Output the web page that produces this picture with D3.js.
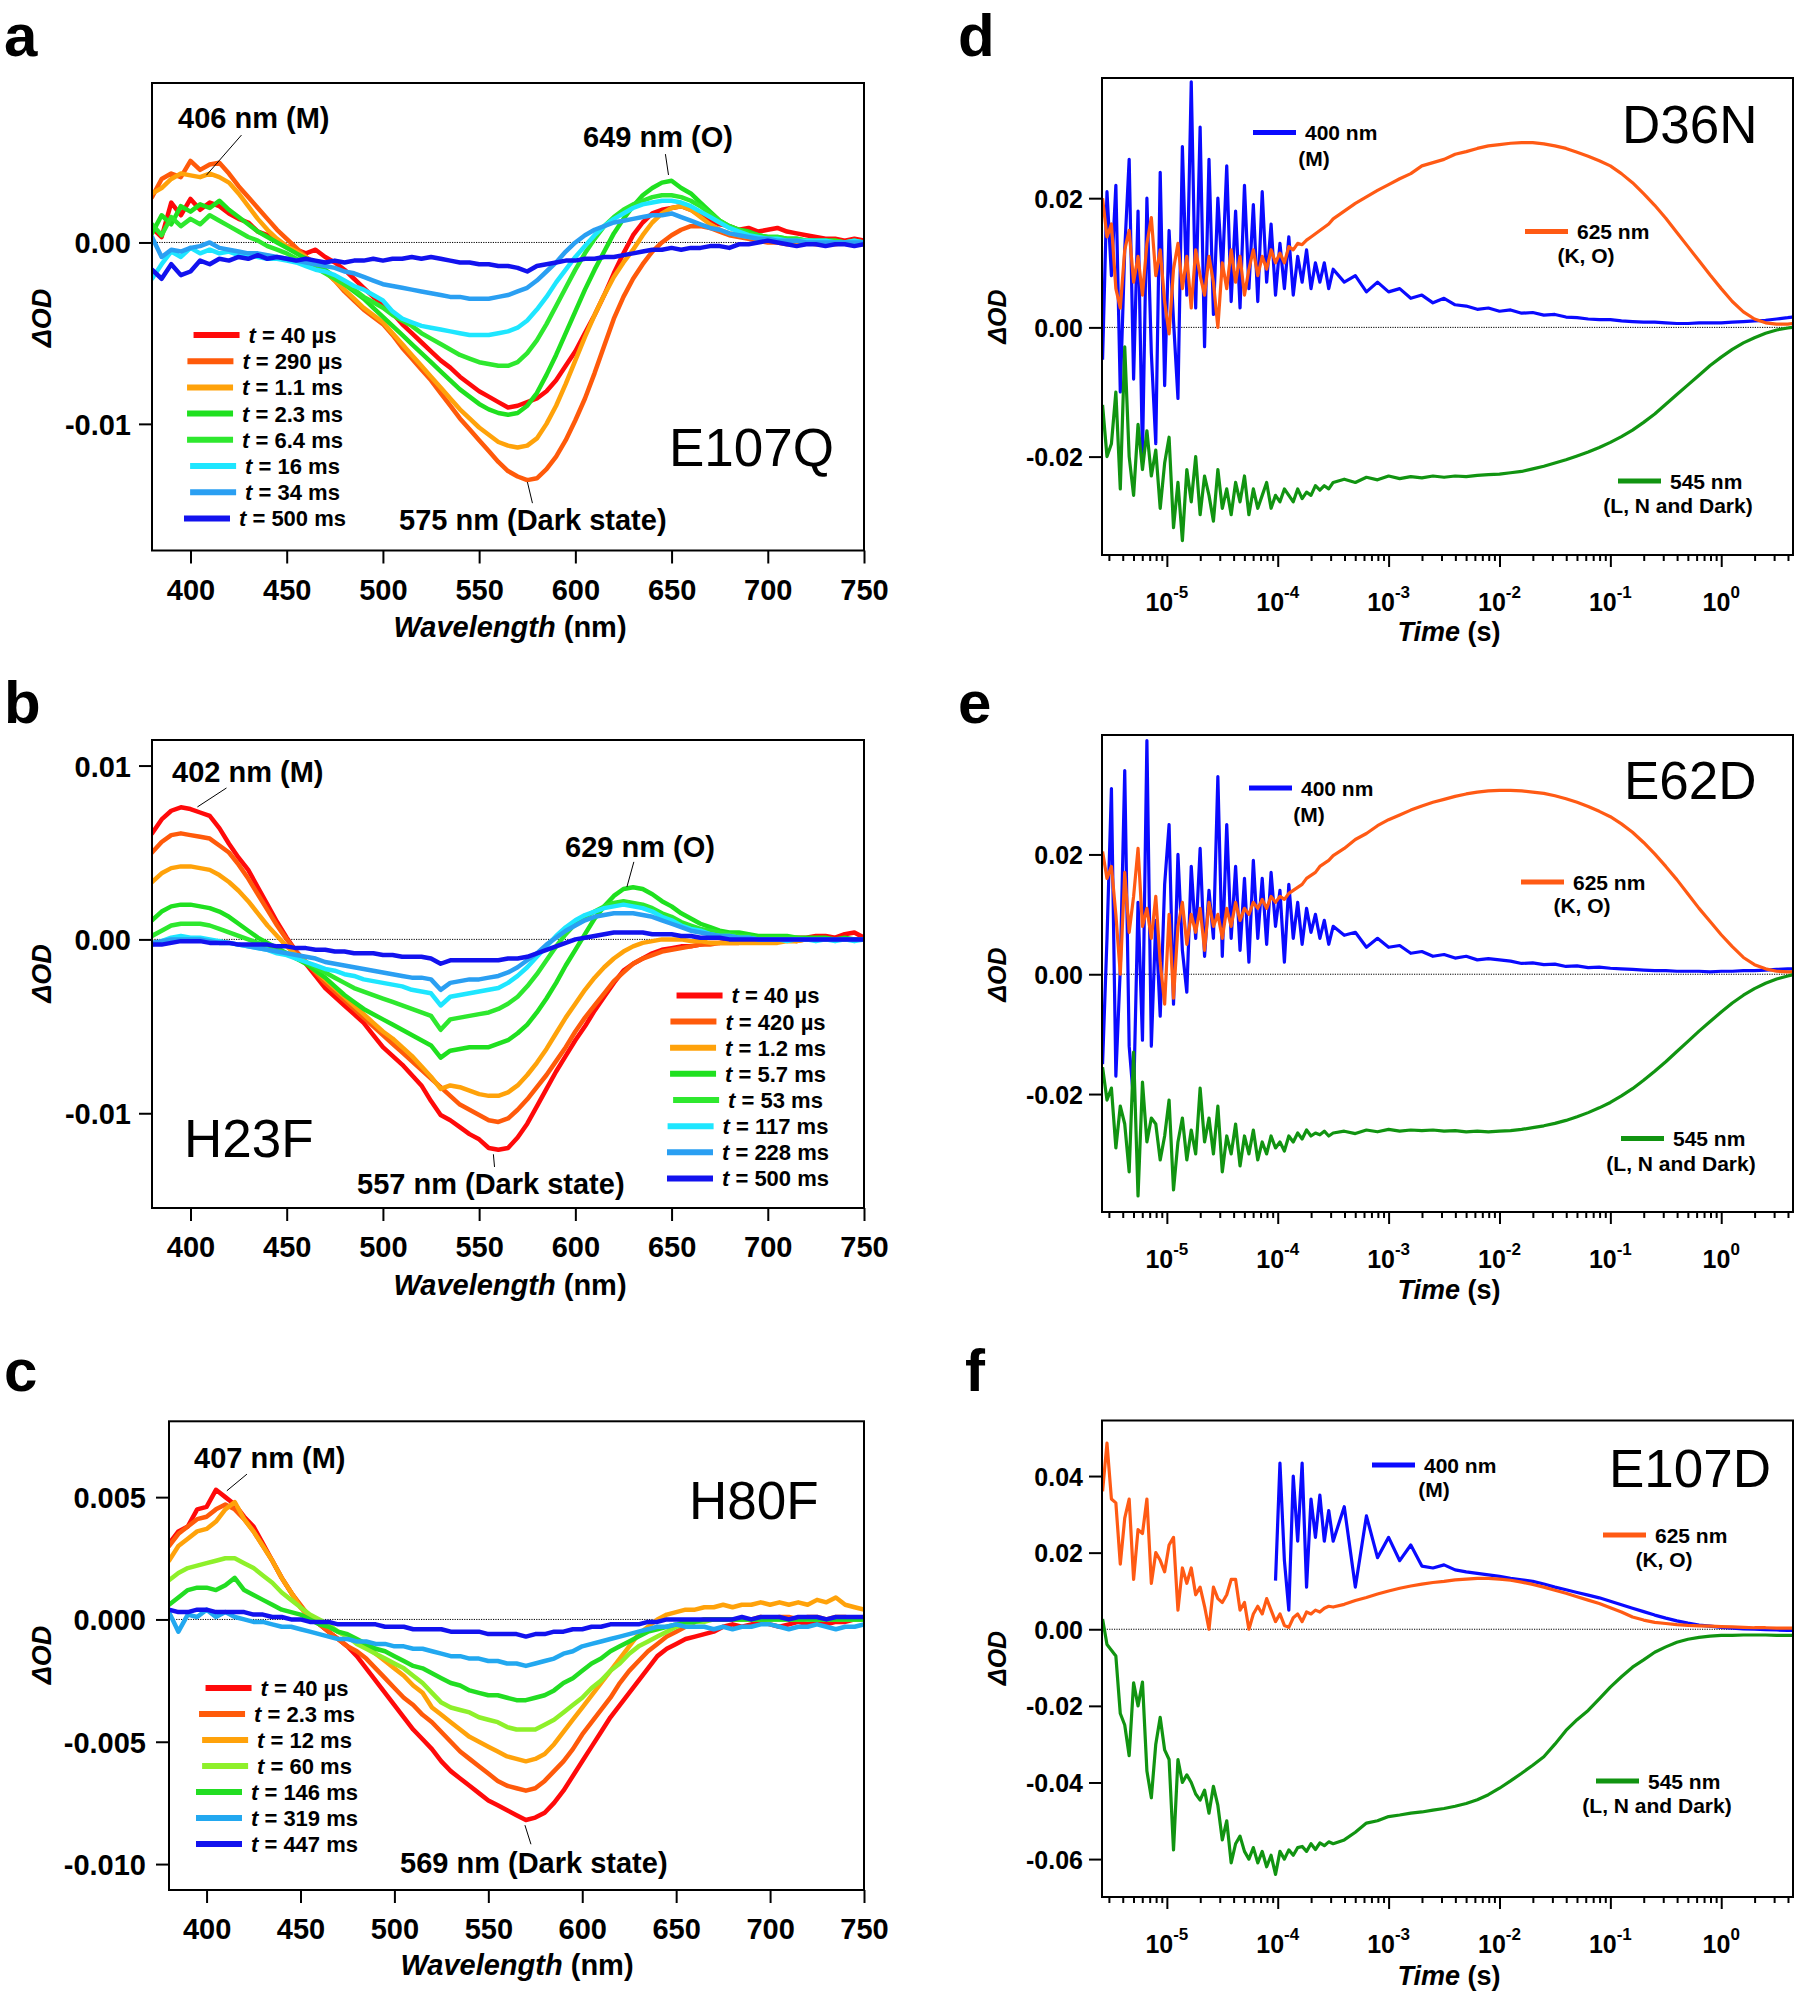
<!DOCTYPE html>
<html><head><meta charset="utf-8">
<script src="https://cdn.jsdelivr.net/npm/d3@7"></script>
<style>body{margin:0;background:#fff}svg{display:block}</style>
</head><body>
<svg id="chart" width="1800" height="1996"></svg>
<script>
// ================= DATA =================
const wavelengths = [380,385,390,395,400,405,410,415,420,425,430,435,440,445,450,
455,460,465,470,475,480,485,490,495,500,505,510,515,520,525,
530,535,540,545,550,555,560,565,570,575,580,585,590,595,600,
605,610,615,620,625,630,635,640,645,650,655,660,665,670,675,
680,685,690,695,700,705,710,715,720,725,730,735,740,745,750];
const wlTicks = [400,450,500,550,600,650,700,750];

// ---- panel a (E107Q) ----
const aLabels = ["40 µs","290 µs","1.1 ms","2.3 ms","6.4 ms","16 ms","34 ms","500 ms"];
const a40us = [0.0008,0.0003,0.0022,0.0015,0.0024,0.0018,0.0022,0.0020,0.0016,0.0013,0.0011,0.0006,0.0004,0.0001,-0.0002,
-0.0004,-0.0006,-0.0004,-0.0008,-0.0011,-0.0015,-0.0020,-0.0025,-0.0030,-0.0034,-0.0039,-0.0045,-0.0050,-0.0055,-0.0060,
-0.0065,-0.0069,-0.0074,-0.0078,-0.0082,-0.0085,-0.0088,-0.0091,-0.0090,-0.0088,-0.0086,-0.0082,-0.0076,-0.0068,-0.0060,
-0.0050,-0.0040,-0.0029,-0.0017,-0.0006,0.0004,0.0011,0.0016,0.0018,0.0019,0.0020,0.0018,0.0015,0.0012,0.0010,
0.0009,0.0007,0.0008,0.0006,0.0007,0.0008,0.0006,0.0005,0.0004,0.0003,0.0002,0.0002,0.0001,0.0002,0.0001];
const a290us = [0.0025,0.0035,0.0038,0.0036,0.0045,0.0040,0.0043,0.0044,0.0038,0.0031,0.0025,0.0019,0.0013,0.0007,0.0002,
-0.0003,-0.0008,-0.0012,-0.0016,-0.0021,-0.0027,-0.0032,-0.0037,-0.0041,-0.0045,-0.0051,-0.0058,-0.0064,-0.0070,-0.0076,
-0.0083,-0.0090,-0.0097,-0.0103,-0.0109,-0.0115,-0.0121,-0.0126,-0.0129,-0.0131,-0.0130,-0.0125,-0.0118,-0.0109,-0.0098,
-0.0086,-0.0072,-0.0057,-0.0042,-0.0030,-0.0020,-0.0012,-0.0005,0.0000,0.0004,0.0007,0.0009,0.0009,0.0008,0.0006,
0.0004,0.0003,0.0002,0.0001,0.0000,0.0000,-0.0001,0.0000,0.0000,-0.0001,0.0000,-0.0001,0.0000,-0.0001,-0.0001];
const a1_1ms = [0.0027,0.0030,0.0035,0.0038,0.0037,0.0036,0.0038,0.0036,0.0033,0.0027,0.0020,0.0013,0.0007,0.0002,-0.0002,
-0.0005,-0.0008,-0.0012,-0.0016,-0.0021,-0.0026,-0.0031,-0.0036,-0.0040,-0.0044,-0.0050,-0.0056,-0.0062,-0.0068,-0.0074,
-0.0080,-0.0086,-0.0092,-0.0097,-0.0102,-0.0106,-0.0110,-0.0112,-0.0113,-0.0112,-0.0108,-0.0100,-0.0090,-0.0078,-0.0065,
-0.0052,-0.0040,-0.0029,-0.0019,-0.0011,-0.0004,0.0004,0.0011,0.0016,0.0019,0.0020,0.0018,0.0014,0.0010,0.0007,
0.0005,0.0004,0.0003,0.0002,0.0001,0.0001,0.0000,0.0000,0.0000,0.0000,0.0000,0.0000,0.0000,0.0000,0.0000];
const a2_3ms = [0.0005,0.0015,0.0010,0.0020,0.0017,0.0021,0.0019,0.0023,0.0018,0.0014,0.0010,0.0006,0.0003,0.0000,-0.0003,
-0.0006,-0.0009,-0.0012,-0.0015,-0.0019,-0.0023,-0.0027,-0.0031,-0.0036,-0.0041,-0.0046,-0.0051,-0.0056,-0.0061,-0.0066,
-0.0071,-0.0076,-0.0081,-0.0085,-0.0089,-0.0092,-0.0094,-0.0095,-0.0094,-0.0090,-0.0083,-0.0073,-0.0062,-0.0050,-0.0038,
-0.0026,-0.0015,-0.0005,0.0005,0.0013,0.0020,0.0026,0.0030,0.0033,0.0034,0.0030,0.0027,0.0022,0.0017,0.0012,
0.0009,0.0007,0.0006,0.0004,0.0003,0.0003,0.0002,0.0002,0.0001,0.0001,0.0001,0.0001,0.0000,0.0000,0.0000];
const a6_4ms = [0.0010,0.0004,0.0014,0.0009,0.0013,0.0010,0.0015,0.0012,0.0009,0.0006,0.0003,0.0001,-0.0002,-0.0004,-0.0006,
-0.0009,-0.0011,-0.0014,-0.0017,-0.0020,-0.0023,-0.0026,-0.0030,-0.0033,-0.0036,-0.0040,-0.0043,-0.0046,-0.0050,-0.0053,
-0.0056,-0.0059,-0.0062,-0.0064,-0.0066,-0.0067,-0.0068,-0.0068,-0.0066,-0.0061,-0.0054,-0.0045,-0.0035,-0.0025,-0.0015,
-0.0006,0.0002,0.0009,0.0014,0.0018,0.0021,0.0023,0.0025,0.0026,0.0026,0.0025,0.0023,0.0020,0.0016,0.0012,
0.0009,0.0007,0.0005,0.0004,0.0003,0.0003,0.0002,0.0002,0.0001,0.0001,0.0001,0.0001,0.0000,0.0001,0.0000];
const a16ms = [-0.0020,-0.0012,-0.0005,-0.0008,-0.0003,-0.0006,-0.0004,-0.0006,-0.0005,-0.0007,-0.0007,-0.0008,-0.0009,-0.0009,-0.0010,
-0.0011,-0.0013,-0.0015,-0.0016,-0.0018,-0.0021,-0.0024,-0.0026,-0.0029,-0.0032,-0.0038,-0.0042,-0.0044,-0.0046,-0.0047,
-0.0048,-0.0049,-0.0050,-0.0051,-0.0051,-0.0051,-0.0050,-0.0049,-0.0047,-0.0043,-0.0037,-0.0030,-0.0022,-0.0015,-0.0008,
-0.0002,0.0004,0.0009,0.0013,0.0016,0.0019,0.0021,0.0022,0.0023,0.0023,0.0022,0.0020,0.0017,0.0014,0.0011,
0.0008,0.0006,0.0004,0.0003,0.0002,0.0002,0.0001,0.0001,0.0001,0.0001,0.0001,0.0000,0.0000,0.0001,0.0000];
const a34ms = [0.0003,-0.0008,-0.0004,-0.0005,-0.0003,-0.0002,0.0000,-0.0003,-0.0004,-0.0005,-0.0006,-0.0006,-0.0007,-0.0008,-0.0009,
-0.0010,-0.0011,-0.0012,-0.0013,-0.0014,-0.0016,-0.0017,-0.0019,-0.0021,-0.0023,-0.0024,-0.0025,-0.0026,-0.0027,-0.0028,
-0.0029,-0.0030,-0.0030,-0.0031,-0.0031,-0.0031,-0.0030,-0.0029,-0.0027,-0.0025,-0.0021,-0.0016,-0.0011,-0.0005,0.0000,
0.0004,0.0007,0.0009,0.0011,0.0012,0.0013,0.0014,0.0015,0.0015,0.0016,0.0014,0.0012,0.0010,0.0008,0.0007,
0.0005,0.0004,0.0003,0.0002,0.0002,0.0001,0.0001,0.0001,0.0000,0.0000,0.0000,0.0000,0.0000,0.0000,0.0000];
const a500ms = [-0.0015,-0.0020,-0.0012,-0.0018,-0.0016,-0.0010,-0.0012,-0.0009,-0.0010,-0.0008,-0.0009,-0.0007,-0.0009,-0.0008,-0.0009,
-0.0010,-0.0009,-0.0010,-0.0011,-0.0010,-0.0011,-0.0010,-0.0010,-0.0009,-0.0010,-0.0009,-0.0009,-0.0008,-0.0009,-0.0008,
-0.0009,-0.0010,-0.0011,-0.0011,-0.0012,-0.0012,-0.0013,-0.0013,-0.0014,-0.0016,-0.0013,-0.0012,-0.0011,-0.0010,-0.0010,
-0.0009,-0.0009,-0.0008,-0.0008,-0.0007,-0.0006,-0.0005,-0.0004,-0.0004,-0.0003,-0.0004,-0.0003,-0.0003,-0.0002,-0.0002,
-0.0003,-0.0001,-0.0001,0.0000,0.0001,0.0000,-0.0001,-0.0002,-0.0001,-0.0001,-0.0002,-0.0001,-0.0001,-0.0002,-0.0001];

// ---- panel b (H23F) ----
const bLabels = ["40 µs","420 µs","1.2 ms","5.7 ms","53 ms","117 ms","228 ms","500 ms"];
const b40us = [0.0061,0.0069,0.0074,0.0076,0.0075,0.0073,0.0071,0.0064,0.0055,0.0047,0.0040,0.0030,0.0020,0.0010,0.0001,
-0.0007,-0.0014,-0.0021,-0.0028,-0.0033,-0.0038,-0.0043,-0.0048,-0.0055,-0.0062,-0.0067,-0.0072,-0.0078,-0.0084,-0.0093,
-0.0101,-0.0104,-0.0108,-0.0112,-0.0115,-0.0120,-0.0121,-0.0120,-0.0114,-0.0106,-0.0096,-0.0086,-0.0076,-0.0067,-0.0058,
-0.0050,-0.0041,-0.0033,-0.0025,-0.0018,-0.0014,-0.0011,-0.0008,-0.0006,-0.0005,-0.0004,-0.0004,-0.0003,-0.0002,-0.0002,
-0.0001,-0.0001,0.0000,0.0000,0.0000,0.0001,0.0000,0.0001,0.0001,0.0002,0.0002,0.0001,0.0003,0.0004,0.0001];
const b420us = [0.0050,0.0056,0.0060,0.0061,0.0060,0.0059,0.0058,0.0054,0.0050,0.0043,0.0035,0.0026,0.0017,0.0008,0.0000,
-0.0007,-0.0013,-0.0019,-0.0025,-0.0030,-0.0035,-0.0040,-0.0045,-0.0050,-0.0055,-0.0060,-0.0065,-0.0070,-0.0075,-0.0080,
-0.0085,-0.0090,-0.0095,-0.0098,-0.0101,-0.0104,-0.0105,-0.0103,-0.0098,-0.0092,-0.0085,-0.0078,-0.0070,-0.0062,-0.0053,
-0.0045,-0.0038,-0.0031,-0.0024,-0.0019,-0.0014,-0.0011,-0.0009,-0.0007,-0.0006,-0.0005,-0.0004,-0.0003,-0.0003,-0.0002,
-0.0002,-0.0002,-0.0001,-0.0001,-0.0001,0.0000,0.0000,-0.0001,0.0000,0.0000,0.0000,0.0000,0.0000,0.0000,0.0000];
const b1_2ms = [0.0033,0.0038,0.0041,0.0042,0.0042,0.0041,0.0040,0.0037,0.0033,0.0028,0.0022,0.0015,0.0008,0.0002,-0.0004,
-0.0009,-0.0013,-0.0018,-0.0023,-0.0028,-0.0033,-0.0038,-0.0043,-0.0048,-0.0053,-0.0057,-0.0062,-0.0067,-0.0073,-0.0079,
-0.0086,-0.0084,-0.0085,-0.0087,-0.0089,-0.0090,-0.0090,-0.0088,-0.0084,-0.0078,-0.0071,-0.0063,-0.0054,-0.0045,-0.0037,
-0.0029,-0.0022,-0.0016,-0.0011,-0.0007,-0.0004,-0.0002,-0.0001,0.0000,0.0000,0.0000,-0.0001,-0.0001,-0.0002,-0.0002,
-0.0002,-0.0002,-0.0002,-0.0002,-0.0002,-0.0002,-0.0001,-0.0001,0.0000,0.0000,0.0000,0.0000,0.0000,0.0000,0.0000];
const b5_7ms = [0.0011,0.0016,0.0019,0.0020,0.0020,0.0019,0.0018,0.0016,0.0013,0.0009,0.0005,0.0001,-0.0002,-0.0005,-0.0008,
-0.0011,-0.0014,-0.0018,-0.0022,-0.0027,-0.0032,-0.0036,-0.0040,-0.0043,-0.0046,-0.0049,-0.0052,-0.0055,-0.0058,-0.0061,
-0.0068,-0.0064,-0.0063,-0.0062,-0.0062,-0.0062,-0.0060,-0.0058,-0.0054,-0.0049,-0.0042,-0.0034,-0.0025,-0.0015,-0.0006,
0.0003,0.0012,0.0019,0.0025,0.0029,0.0030,0.0029,0.0026,0.0022,0.0019,0.0015,0.0012,0.0009,0.0007,0.0005,
0.0004,0.0004,0.0003,0.0002,0.0002,0.0002,0.0002,0.0001,0.0001,0.0001,0.0001,0.0000,0.0001,0.0000,0.0000];
const b53ms = [0.0002,0.0005,0.0008,0.0009,0.0009,0.0009,0.0008,0.0006,0.0004,0.0002,0.0000,-0.0002,-0.0004,-0.0006,-0.0008,
-0.0011,-0.0013,-0.0016,-0.0019,-0.0022,-0.0025,-0.0028,-0.0030,-0.0032,-0.0034,-0.0036,-0.0038,-0.0040,-0.0042,-0.0044,
-0.0052,-0.0046,-0.0045,-0.0044,-0.0043,-0.0042,-0.0040,-0.0037,-0.0033,-0.0027,-0.0020,-0.0012,-0.0004,0.0003,0.0009,
0.0013,0.0016,0.0019,0.0021,0.0022,0.0021,0.0020,0.0018,0.0015,0.0013,0.0010,0.0008,0.0006,0.0005,0.0004,
0.0003,0.0002,0.0002,0.0001,0.0001,0.0001,0.0001,0.0001,0.0000,0.0000,0.0000,0.0000,0.0000,0.0000,0.0000];
const b117ms = [-0.0003,-0.0001,0.0001,0.0002,0.0001,0.0001,0.0000,-0.0001,-0.0002,-0.0003,-0.0004,-0.0005,-0.0006,-0.0008,-0.0009,
-0.0011,-0.0013,-0.0015,-0.0017,-0.0018,-0.0020,-0.0021,-0.0023,-0.0024,-0.0025,-0.0026,-0.0027,-0.0029,-0.0030,-0.0031,
-0.0038,-0.0033,-0.0032,-0.0031,-0.0030,-0.0029,-0.0028,-0.0025,-0.0021,-0.0016,-0.0010,-0.0004,0.0002,0.0007,0.0011,
0.0014,0.0016,0.0018,0.0019,0.0020,0.0019,0.0018,0.0016,0.0013,0.0011,0.0008,0.0006,0.0005,0.0003,0.0002,
0.0002,0.0001,0.0001,0.0000,0.0000,0.0000,-0.0001,0.0000,0.0000,-0.0001,0.0000,-0.0001,0.0000,-0.0001,0.0000];
const b228ms = [-0.0002,-0.0001,0.0000,0.0000,0.0000,0.0000,-0.0001,-0.0002,-0.0002,-0.0003,-0.0004,-0.0005,-0.0006,-0.0007,-0.0008,
-0.0009,-0.0010,-0.0011,-0.0013,-0.0014,-0.0015,-0.0016,-0.0017,-0.0018,-0.0019,-0.0020,-0.0021,-0.0022,-0.0022,-0.0023,
-0.0029,-0.0025,-0.0024,-0.0023,-0.0023,-0.0022,-0.0021,-0.0019,-0.0016,-0.0012,-0.0008,-0.0003,0.0001,0.0005,0.0008,
0.0011,0.0013,0.0014,0.0015,0.0015,0.0015,0.0014,0.0013,0.0011,0.0009,0.0007,0.0005,0.0004,0.0003,0.0002,
0.0002,0.0001,0.0001,0.0000,0.0000,0.0000,0.0000,0.0000,0.0000,0.0000,0.0000,0.0000,0.0000,0.0000,0.0000];
const b500ms = [-0.0003,-0.0003,-0.0002,-0.0001,-0.0001,-0.0001,-0.0002,-0.0002,-0.0002,-0.0003,-0.0003,-0.0003,-0.0003,-0.0004,-0.0004,
-0.0005,-0.0005,-0.0006,-0.0006,-0.0007,-0.0007,-0.0008,-0.0008,-0.0008,-0.0009,-0.0009,-0.0010,-0.0010,-0.0010,-0.0011,
-0.0014,-0.0012,-0.0012,-0.0012,-0.0012,-0.0012,-0.0012,-0.0011,-0.0011,-0.0010,-0.0008,-0.0006,-0.0004,-0.0002,0.0000,
0.0001,0.0002,0.0003,0.0004,0.0004,0.0004,0.0004,0.0003,0.0003,0.0003,0.0002,0.0002,0.0001,0.0001,0.0001,
0.0000,0.0000,0.0000,0.0000,0.0000,0.0000,0.0000,0.0000,0.0000,0.0000,0.0000,0.0000,0.0000,0.0000,0.0000];

// ---- panel c (H80F) ----
const cLabels = ["40 µs","2.3 ms","12 ms","60 ms","146 ms","319 ms","447 ms"];
const c40us = [0.0031,0.0036,0.0038,0.0045,0.0046,0.0053,0.0050,0.0047,0.0042,0.0038,0.0031,0.0024,0.0017,0.0011,0.0005,
0.0001,-0.0002,-0.0005,-0.0008,-0.0011,-0.0015,-0.0020,-0.0025,-0.0030,-0.0035,-0.0040,-0.0045,-0.0049,-0.0053,-0.0058,
-0.0062,-0.0065,-0.0068,-0.0071,-0.0074,-0.0076,-0.0078,-0.0080,-0.0082,-0.0081,-0.0079,-0.0075,-0.0070,-0.0064,-0.0058,
-0.0052,-0.0046,-0.0040,-0.0035,-0.0030,-0.0025,-0.0020,-0.0015,-0.0012,-0.0010,-0.0008,-0.0007,-0.0006,-0.0005,-0.0003,
-0.0002,-0.0003,-0.0002,-0.0001,-0.0002,-0.0003,-0.0002,-0.0001,-0.0002,-0.0001,-0.0002,-0.0001,-0.0001,0.0000,0.0000];
const c2_3ms = [0.0030,0.0035,0.0038,0.0041,0.0042,0.0045,0.0047,0.0045,0.0041,0.0036,0.0030,0.0024,0.0017,0.0011,0.0006,
0.0001,-0.0002,-0.0005,-0.0008,-0.0011,-0.0013,-0.0016,-0.0020,-0.0024,-0.0028,-0.0032,-0.0035,-0.0039,-0.0042,-0.0046,
-0.0050,-0.0054,-0.0057,-0.0060,-0.0063,-0.0066,-0.0068,-0.0069,-0.0070,-0.0069,-0.0066,-0.0062,-0.0058,-0.0053,-0.0047,
-0.0042,-0.0037,-0.0032,-0.0026,-0.0021,-0.0017,-0.0013,-0.0010,-0.0007,-0.0005,-0.0003,-0.0001,0.0000,0.0000,0.0000,
0.0000,0.0000,0.0000,0.0001,0.0000,0.0001,0.0001,0.0000,0.0001,0.0001,0.0000,0.0001,0.0001,0.0000,0.0000];
const c12ms = [0.0024,0.0030,0.0033,0.0036,0.0037,0.0040,0.0045,0.0048,0.0041,0.0036,0.0030,0.0024,0.0017,0.0011,0.0005,
0.0001,-0.0001,-0.0003,-0.0005,-0.0007,-0.0009,-0.0011,-0.0014,-0.0017,-0.0020,-0.0023,-0.0027,-0.0030,-0.0036,-0.0039,
-0.0042,-0.0045,-0.0048,-0.0050,-0.0052,-0.0054,-0.0056,-0.0057,-0.0058,-0.0057,-0.0055,-0.0051,-0.0046,-0.0041,-0.0036,
-0.0031,-0.0026,-0.0021,-0.0016,-0.0011,-0.0006,-0.0003,0.0000,0.0002,0.0003,0.0004,0.0004,0.0005,0.0005,0.0006,
0.0005,0.0006,0.0006,0.0007,0.0006,0.0007,0.0006,0.0007,0.0006,0.0008,0.0007,0.0009,0.0006,0.0005,0.0004];
const c60ms = [0.0016,0.0019,0.0021,0.0022,0.0023,0.0024,0.0025,0.0025,0.0023,0.0021,0.0018,0.0015,0.0011,0.0008,0.0005,
0.0002,0.0000,-0.0002,-0.0005,-0.0007,-0.0010,-0.0012,-0.0014,-0.0016,-0.0018,-0.0020,-0.0023,-0.0026,-0.0030,-0.0034,
-0.0036,-0.0037,-0.0038,-0.0040,-0.0041,-0.0042,-0.0044,-0.0045,-0.0045,-0.0045,-0.0043,-0.0041,-0.0038,-0.0035,-0.0032,
-0.0028,-0.0025,-0.0021,-0.0018,-0.0014,-0.0011,-0.0009,-0.0007,-0.0005,-0.0003,-0.0002,-0.0001,-0.0001,0.0000,0.0000,
0.0000,0.0000,0.0000,0.0000,0.0000,0.0000,0.0000,0.0000,0.0000,0.0000,0.0000,0.0000,0.0000,0.0000,0.0000];
const c146ms = [0.0006,0.0009,0.0012,0.0013,0.0013,0.0012,0.0014,0.0017,0.0012,0.0010,0.0008,0.0006,0.0004,0.0003,0.0002,
0.0000,-0.0002,-0.0003,-0.0005,-0.0006,-0.0008,-0.0010,-0.0012,-0.0013,-0.0015,-0.0017,-0.0019,-0.0020,-0.0022,-0.0024,
-0.0026,-0.0027,-0.0029,-0.0030,-0.0031,-0.0031,-0.0032,-0.0033,-0.0033,-0.0032,-0.0031,-0.0029,-0.0026,-0.0024,-0.0021,
-0.0018,-0.0016,-0.0013,-0.0011,-0.0009,-0.0007,-0.0005,-0.0004,-0.0003,-0.0002,-0.0001,-0.0001,0.0000,0.0000,0.0000,
0.0000,0.0000,0.0000,0.0000,0.0000,0.0000,0.0000,0.0000,0.0000,0.0000,0.0000,0.0000,0.0000,0.0000,0.0000];
const c319ms = [0.0003,-0.0005,0.0002,0.0001,0.0004,0.0001,0.0003,0.0001,0.0000,-0.0001,-0.0001,-0.0002,-0.0003,-0.0003,-0.0004,
-0.0005,-0.0006,-0.0007,-0.0008,-0.0008,-0.0009,-0.0009,-0.0010,-0.0010,-0.0011,-0.0011,-0.0012,-0.0012,-0.0013,-0.0014,
-0.0015,-0.0015,-0.0016,-0.0016,-0.0017,-0.0017,-0.0018,-0.0018,-0.0019,-0.0018,-0.0017,-0.0016,-0.0014,-0.0013,-0.0011,
-0.0010,-0.0009,-0.0008,-0.0007,-0.0006,-0.0005,-0.0004,-0.0003,-0.0003,-0.0002,-0.0003,-0.0003,-0.0003,-0.0004,-0.0003,
-0.0004,-0.0003,-0.0003,-0.0002,-0.0002,-0.0003,-0.0004,-0.0003,-0.0003,-0.0002,-0.0003,-0.0004,-0.0003,-0.0003,-0.0002];
const c447ms = [0.0004,0.0003,0.0003,0.0004,0.0004,0.0003,0.0003,0.0003,0.0003,0.0002,0.0002,0.0001,0.0001,0.0000,0.0000,
-0.0001,-0.0001,-0.0001,-0.0002,-0.0002,-0.0002,-0.0002,-0.0002,-0.0003,-0.0003,-0.0003,-0.0004,-0.0004,-0.0004,-0.0004,
-0.0005,-0.0005,-0.0005,-0.0005,-0.0006,-0.0006,-0.0006,-0.0006,-0.0007,-0.0006,-0.0006,-0.0005,-0.0005,-0.0004,-0.0004,
-0.0003,-0.0003,-0.0002,-0.0002,-0.0002,-0.0002,-0.0001,-0.0001,0.0000,0.0000,0.0000,0.0000,0.0000,0.0000,0.0000,
0.0000,0.0001,0.0000,0.0001,0.0001,0.0001,0.0000,0.0001,0.0001,0.0001,0.0000,0.0001,0.0001,0.0001,0.0001];

// ---- kinetic traces (d, e, f); time grid in log10(seconds) ----
const timeLog = [-5.58,-5.54,-5.50,-5.46,-5.42,-5.38,-5.34,-5.30,-5.26,-5.22,
-5.18,-5.14,-5.10,-5.06,-5.02,-4.98,-4.94,-4.90,-4.86,-4.82,
-4.78,-4.74,-4.70,-4.66,-4.62,-4.58,-4.54,-4.50,-4.46,-4.42,
-4.38,-4.34,-4.30,-4.26,-4.22,-4.18,-4.14,-4.10,-4.06,-4.02,
-3.98,-3.94,-3.90,-3.86,-3.82,-3.78,-3.74,-3.70,-3.66,-3.62,
-3.58,-3.54,-3.50,-3.40,-3.30,-3.20,-3.10,-3.00,-2.90,-2.80,
-2.70,-2.60,-2.50,-2.40,-2.30,-2.20,-2.10,-2.00,-1.90,-1.80,
-1.70,-1.60,-1.50,-1.40,-1.30,-1.20,-1.10,-1.00,-0.90,-0.80,
-0.70,-0.60,-0.50,-0.40,-0.30,-0.20,-0.10,0.00,0.10,0.20,
0.30,0.40,0.50,0.60,0.64];
const traceLabels = ["400 nm","625 nm","545 nm"];
const traceStates = ["(M)","(K, O)","(L, N and Dark)"];

const d400 = [-0.005,0.021,0.008,0.022,-0.010,0.012,0.026,-0.008,0.018,-0.020,
0.020,-0.004,-0.018,0.024,-0.009,0.015,0.001,-0.011,0.028,0.005,
0.038,0.003,0.031,-0.003,0.026,0.002,0.020,0.008,0.025,0.004,
0.018,0.003,0.022,0.006,0.019,0.004,0.021,0.007,0.016,0.005,
0.013,0.006,0.014,0.005,0.011,0.007,0.012,0.006,0.010,0.007,
0.010,0.006,0.009,0.007,0.008,0.0055,0.007,0.0055,0.006,0.0045,
0.005,0.0038,0.0045,0.0035,0.0033,0.0028,0.003,0.0025,0.0027,0.0022,
0.0023,0.0019,0.002,0.0016,0.0015,0.0013,0.0012,0.0012,0.0010,0.0009,
0.0008,0.0008,0.0007,0.0006,0.0006,0.0007,0.0007,0.0007,0.0008,0.0009,
0.0010,0.0011,0.0013,0.0015,0.0016];
const d625 = [0.020,0.014,0.016,0.006,0.003,0.012,0.015,0.007,0.011,0.005,
0.013,0.017,0.008,0.012,0.004,-0.001,0.009,0.013,0.006,0.011,
0.003,0.012,0.008,0.005,0.011,0.007,0.000,0.010,0.006,0.012,
0.007,0.011,0.005,0.009,0.012,0.008,0.011,0.009,0.012,0.010,
0.0115,0.010,0.0125,0.012,0.013,0.0128,0.0135,0.014,0.0145,0.015,
0.0155,0.016,0.0168,0.018,0.0192,0.0202,0.0212,0.0221,0.023,0.0238,
0.025,0.0255,0.026,0.0268,0.0272,0.0277,0.0281,0.0283,0.0285,0.0286,
0.0286,0.0284,0.0281,0.0277,0.0271,0.0265,0.0258,0.0250,0.0238,0.0224,
0.0207,0.0189,0.0169,0.0147,0.0125,0.0103,0.0081,0.0060,0.0040,0.0024,
0.0013,0.0007,0.0005,0.0005,0.0006];
const d545 = [-0.012,-0.020,-0.018,-0.010,-0.025,-0.003,-0.020,-0.026,-0.015,-0.022,
-0.016,-0.023,-0.019,-0.028,-0.021,-0.017,-0.031,-0.024,-0.033,-0.022,
-0.027,-0.020,-0.029,-0.023,-0.026,-0.030,-0.022,-0.028,-0.025,-0.029,
-0.024,-0.027,-0.023,-0.029,-0.025,-0.028,-0.026,-0.024,-0.028,-0.026,
-0.027,-0.025,-0.026,-0.027,-0.025,-0.0265,-0.0255,-0.026,-0.0245,-0.0252,
-0.0245,-0.025,-0.0240,-0.0235,-0.024,-0.0232,-0.0236,-0.023,-0.0234,-0.0231,
-0.0233,-0.0230,-0.0232,-0.0230,-0.0231,-0.0229,-0.0228,-0.0227,-0.0225,-0.0223,
-0.0219,-0.0215,-0.0210,-0.0205,-0.0199,-0.0193,-0.0186,-0.0178,-0.0169,-0.0159,
-0.0147,-0.0134,-0.0119,-0.0104,-0.0089,-0.0074,-0.0059,-0.0046,-0.0034,-0.0024,
-0.0016,-0.0009,-0.0004,-0.0001,0.0000];

const e400 = [-0.015,0.006,0.031,-0.017,0.001,0.034,-0.012,-0.021,0.012,-0.011,
0.039,-0.012,0.009,-0.007,0.015,0.025,-0.005,0.020,0.004,-0.003,
0.018,0.006,0.021,0.003,0.014,0.006,0.033,0.003,0.025,0.006,
0.018,0.004,0.016,0.002,0.019,0.006,0.016,0.005,0.017,0.008,
0.014,0.002,0.015,0.006,0.012,0.005,0.011,0.007,0.010,0.006,
0.009,0.005,0.008,0.0065,0.007,0.0045,0.006,0.0045,0.0048,0.0035,
0.0038,0.003,0.0033,0.0027,0.003,0.0024,0.0026,0.0024,0.0022,0.0018,
0.0019,0.0016,0.0017,0.0013,0.0014,0.0011,0.0012,0.0010,0.0009,0.0008,
0.0007,0.0006,0.0006,0.0005,0.0005,0.0005,0.0004,0.0005,0.0005,0.0006,
0.0006,0.0007,0.0008,0.0009,0.0009];
const e625 = [0.0205,0.016,0.018,0.010,0.000,0.017,0.007,0.013,0.021,0.008,
0.011,0.006,0.013,0.002,-0.005,0.010,-0.004,0.008,0.012,0.005,
0.010,0.007,0.011,0.004,0.012,0.008,0.010,0.006,0.011,0.008,
0.012,0.009,0.011,0.010,0.012,0.011,0.0125,0.011,0.013,0.012,
0.013,0.0125,0.0135,0.014,0.0145,0.015,0.016,0.0165,0.017,0.018,
0.0185,0.019,0.0198,0.021,0.0225,0.0235,0.0248,0.0258,0.0266,0.0274,
0.0281,0.0287,0.0292,0.0297,0.0301,0.0304,0.0306,0.0307,0.0307,0.0306,
0.0304,0.0302,0.0298,0.0293,0.0287,0.0280,0.0272,0.0263,0.0251,0.0237,
0.0220,0.0201,0.0180,0.0158,0.0134,0.0110,0.0088,0.0066,0.0046,0.0028,
0.0016,0.0009,0.0005,0.0004,0.0004];
const e545 = [-0.0155,-0.021,-0.019,-0.029,-0.022,-0.025,-0.033,-0.013,-0.037,-0.018,
-0.028,-0.024,-0.025,-0.031,-0.027,-0.021,-0.036,-0.028,-0.024,-0.031,
-0.026,-0.030,-0.019,-0.028,-0.024,-0.030,-0.022,-0.033,-0.027,-0.030,
-0.025,-0.032,-0.027,-0.030,-0.026,-0.031,-0.028,-0.030,-0.027,-0.029,
-0.028,-0.0295,-0.027,-0.028,-0.0265,-0.0275,-0.026,-0.027,-0.0265,-0.0268,
-0.0262,-0.027,-0.0265,-0.0262,-0.0266,-0.026,-0.0263,-0.0259,-0.0262,-0.026,
-0.0261,-0.026,-0.0262,-0.0261,-0.0263,-0.0262,-0.0263,-0.0262,-0.0261,-0.0259,
-0.0256,-0.0253,-0.0249,-0.0244,-0.0238,-0.0231,-0.0223,-0.0214,-0.0203,-0.0191,
-0.0177,-0.0162,-0.0146,-0.0129,-0.0112,-0.0095,-0.0079,-0.0063,-0.0048,-0.0035,
-0.0024,-0.0015,-0.0008,-0.0003,-0.0001];

const f400 = [null,null,null,null,null,null,null,null,null,null,
null,null,null,null,null,null,null,null,null,null,
null,null,null,null,null,null,null,null,null,null,
null,null,null,null,null,null,null,null,null,0.0127,
0.0434,0.018,0.005,0.040,0.023,0.0434,0.011,0.034,0.024,0.035,
0.023,0.031,0.023,0.032,0.011,0.0296,0.0187,0.024,0.0179,0.022,
0.0165,0.0160,0.0168,0.0155,0.0150,0.0146,0.0142,0.0138,0.0133,0.0129,
0.0125,0.0118,0.0110,0.0103,0.0096,0.0089,0.0082,0.0073,0.0064,0.0055,
0.0046,0.0037,0.0029,0.0022,0.0016,0.0011,0.0008,0.0005,0.0003,0.0001,
0.0000,-0.0001,-0.0002,-0.0003,-0.0003];
const f625 = [0.036,0.0486,0.034,0.033,0.017,0.029,0.034,0.013,0.026,0.025,
0.034,0.012,0.020,0.018,0.015,0.022,0.024,0.005,0.016,0.012,
0.016,0.009,0.011,0.006,0.000,0.011,0.008,0.007,0.009,0.013,
0.013,0.005,0.007,0.000,0.004,0.006,0.004,0.008,0.005,0.002,
0.004,0.001,0.0005,0.003,0.004,0.002,0.0045,0.004,0.005,0.0045,
0.0055,0.006,0.0058,0.0065,0.0075,0.0083,0.0092,0.0100,0.0107,0.0113,
0.0118,0.0122,0.0125,0.0129,0.0131,0.0133,0.0133,0.0131,0.0128,0.0123,
0.0117,0.0110,0.0102,0.0094,0.0085,0.0076,0.0067,0.0056,0.0045,0.0032,
0.0024,0.0018,0.0015,0.0012,0.0010,0.0009,0.0008,0.0007,0.0006,0.0005,
0.0004,0.0004,0.0003,0.0003,0.0003];
const f545 = [0.0027,-0.004,-0.0055,-0.007,-0.022,-0.025,-0.033,-0.014,-0.020,-0.0138,
-0.037,-0.044,-0.030,-0.023,-0.0315,-0.034,-0.0576,-0.034,-0.040,-0.038,
-0.040,-0.043,-0.0446,-0.042,-0.048,-0.041,-0.046,-0.055,-0.050,-0.061,
-0.056,-0.054,-0.058,-0.060,-0.057,-0.061,-0.058,-0.062,-0.059,-0.064,
-0.058,-0.060,-0.0576,-0.059,-0.057,-0.0567,-0.058,-0.056,-0.0575,-0.0558,
-0.0565,-0.0555,-0.056,-0.055,-0.053,-0.0506,-0.050,-0.0489,-0.0485,-0.048,
-0.0477,-0.0472,-0.0468,-0.0462,-0.0455,-0.0445,-0.0432,-0.0415,-0.0396,-0.0376,
-0.0355,-0.0333,-0.0300,-0.0264,-0.0236,-0.0212,-0.0182,-0.0151,-0.0124,-0.0099,
-0.0080,-0.0060,-0.0046,-0.0034,-0.0026,-0.0021,-0.0018,-0.0016,-0.0016,-0.0015,
-0.0015,-0.0015,-0.0016,-0.0016,-0.0016];

// ================= LAYOUT / STYLE =================
const FONT = '"Liberation Sans", Arial, Helvetica, sans-serif';
const svg = d3.select("#chart");
const wlDomain = [380, 750];
const timeDomain = [2.6e-6, 4.44];
const hyph = f => v => f(v).replace("\u2212", "-");

const spectrumPanels = [
  { id:"a", letter:"a", letterPos:[4,56], frame:[152,864,83,550.5], yDomain:[-0.01698,0.00879],
    yTicks:[0,-0.01], yFmt:hyph(d3.format(".2f")), yLabelX:-21,
    series:[a40us,a290us,a1_1ms,a2_3ms,a6_4ms,a16ms,a34ms,a500ms],
    colors:["#ff0a0a","#ff5a0a","#ffa20a","#1fe01f","#2ee82e","#1ee6ff","#2a9ff2","#1212ee"],
    labels:aLabels, legendCx:265, legendTop:335, legendStep:26.2,
    name:"E107Q", namePos:[669,466], titleCx:510, titleY:637, odPos:[51,318],
    notes:[{text:"406 nm (M)", pos:[178,128], leader:[[426.5,0.00592],[408.3,0.00371]]},
           {text:"649 nm (O)", pos:[583,147], leader:[[646.8,0.00487],[648.4,0.00372]]},
           {text:"575 nm (Dark state)", pos:[399,530], leader:[[575.1,-0.01321],[577.7,-0.01437]]}] },
  { id:"b", letter:"b", letterPos:[4,723], frame:[152,864,740,1208], yDomain:[-0.01545,0.01147],
    yTicks:[0.01,0,-0.01], yFmt:hyph(d3.format(".2f")), yLabelX:-21,
    series:[b40us,b420us,b1_2ms,b5_7ms,b53ms,b117ms,b228ms,b500ms],
    colors:["#ff0a0a","#ff5a0a","#ffa20a","#1fe01f","#2ee82e","#1ee6ff","#2a9ff2","#1212ee"],
    labels:bLabels, legendCx:748, legendTop:995.4, legendStep:26.15,
    name:"H23F", namePos:[184,1157], titleCx:510, titleY:1295, odPos:[51,973.5],
    notes:[{text:"402 nm (M)", pos:[172,782], leader:[[418.7,0.00871],[403.6,0.00762]]},
           {text:"629 nm (O)", pos:[565,857], leader:[[630.4,0.00446],[626.8,0.00302]]},
           {text:"557 nm (Dark state)", pos:[357,1194], leader:[[557.4,-0.01236],[558.0,-0.01309]]}] },
  { id:"c", letter:"c", letterPos:[4,1391], frame:[169,864,1421.3,1890], yDomain:[-0.01106,0.0081],
    yTicks:[0.005,0,-0.005,-0.01], yFmt:hyph(d3.format(".3f")), yLabelX:-23,
    series:[c40us,c2_3ms,c12ms,c60ms,c146ms,c319ms,c447ms],
    colors:["#ff0a0a","#ff5a0a","#ffa20a","#8ef02a","#22dd22","#22a8f0","#1212ee"],
    labels:cLabels, legendCx:277, legendTop:1688, legendStep:26,
    name:"H80F", namePos:[689,1519], titleCx:517, titleY:1975, odPos:[51,1655],
    notes:[{text:"407 nm (M)", pos:[194,1468], leader:[[421.5,0.00594],[410.8,0.00526]]},
           {text:"569 nm (Dark state)", pos:[400,1873], leader:[[569.5,-0.00841],[572.7,-0.00919]]}] }
];

const kineticPanels = [
  { id:"d", letter:"d", letterPos:[958,56], frame:[1102,1793,78,555], yDomain:[-0.03523,0.0386],
    yTicks:[0.02,0,-0.02], series:[d400,d625,d545], name:"D36N", namePos:[1622,143],
    titleY:641, odPos:[1006,316.6],
    legend:[[1253,132.6,1314,158],[1525,231.5,1586,255.5],[1618,481,1678,505]] },
  { id:"e", letter:"e", letterPos:[958,723], frame:[1102,1793,735,1212], yDomain:[-0.03969,0.03994],
    yTicks:[0.02,0,-0.02], series:[e400,e625,e545], name:"E62D", namePos:[1624,799],
    titleY:1299, odPos:[1006,974.6],
    legend:[[1249,788,1309,814],[1521,882,1582,905],[1621,1138.5,1681,1163]] },
  { id:"f", letter:"f", letterPos:[965,1391], frame:[1102,1793,1420.5,1897], yDomain:[-0.0699,0.0545],
    yTicks:[0.04,0.02,0,-0.02,-0.04,-0.06], series:[f400,f625,f545], name:"E107D", namePos:[1609,1487],
    titleY:1985, odPos:[1006,1658],
    legend:[[1372,1465,1434,1489],[1603,1535,1664,1559],[1596,1781,1657,1805]] }
];
const traceColors = ["#0a0aff","#ff5a14","#119411"];

function txt(g, x, y, s, size, opts = {}) {
  return g.append("text").attr("x", x).attr("y", y).text(s)
    .attr("font-family", FONT).attr("font-size", size)
    .attr("font-weight", opts.weight || "bold")
    .attr("font-style", opts.style || "normal")
    .attr("text-anchor", opts.anchor || "start").attr("fill", "#000");
}
function makeClip(p) {
  const [x0, x1, y0, y1] = p.frame;
  svg.append("defs").append("clipPath").attr("id", "clip-" + p.id)
    .append("rect").attr("x", x0).attr("y", y0).attr("width", x1 - x0).attr("height", y1 - y0);
}
function drawFrame(g, p) {
  const [x0, x1, y0, y1] = p.frame;
  g.append("rect").attr("x", x0).attr("y", y0).attr("width", x1 - x0).attr("height", y1 - y0)
    .attr("fill", "none").attr("stroke", "#000").attr("stroke-width", 2);
}
function zeroLine(g, p, y) {
  g.append("line").attr("x1", p.frame[0]).attr("x2", p.frame[1]).attr("y1", y(0)).attr("y2", y(0))
    .attr("stroke", "#000").attr("stroke-width", 1).attr("stroke-dasharray", "1.2,1.2");
}
function odLabel(g, pos, size) {
  g.append("text").attr("transform", `translate(${pos[0]},${pos[1]}) rotate(-90)`)
    .attr("text-anchor", "middle").attr("font-family", FONT).attr("font-size", size)
    .attr("font-weight", "bold").attr("font-style", "italic").text("\u0394OD");
}

// ---------- spectra panels ----------
spectrumPanels.forEach(p => {
  const g = svg.append("g");
  makeClip(p);
  const x = d3.scaleLinear().domain(wlDomain).range([p.frame[0], p.frame[1]]);
  const y = d3.scaleLinear().domain(p.yDomain).range([p.frame[3], p.frame[2]]);
  zeroLine(g, p, y);
  const line = d3.line().x((d, i) => x(wavelengths[i])).y(d => y(d));
  p.series.forEach((s, i) => {
    g.append("path").datum(s).attr("clip-path", `url(#clip-${p.id})`).attr("d", line)
      .attr("fill", "none").attr("stroke", p.colors[i]).attr("stroke-width", 4.5)
      .attr("stroke-linejoin", "round").attr("stroke-linecap", "round");
  });
  drawFrame(g, p);
  const xa = g.append("g").attr("transform", `translate(0,${p.frame[3]})`)
    .call(d3.axisBottom(x).tickValues(wlTicks).tickSize(13).tickSizeOuter(0));
  xa.select(".domain").remove();
  xa.selectAll(".tick line").attr("stroke-width", 2);
  xa.selectAll(".tick text").attr("y", 49).attr("dy", null).attr("font-size", 29)
    .attr("font-weight", "bold").attr("font-family", FONT).attr("fill", "#000");
  const ya = g.append("g").attr("transform", `translate(${p.frame[0]},0)`)
    .call(d3.axisLeft(y).tickValues(p.yTicks).tickFormat(p.yFmt).tickSize(13).tickSizeOuter(0));
  ya.select(".domain").remove();
  ya.selectAll(".tick line").attr("stroke-width", 2);
  ya.selectAll(".tick text").attr("x", p.yLabelX).attr("dy", "0.36em").attr("font-size", 29)
    .attr("font-weight", "bold").attr("font-family", FONT).attr("fill", "#000");
  const tt = txt(g, p.titleCx, p.titleY, "", 29, { anchor: "middle" });
  tt.append("tspan").attr("font-style", "italic").text("Wavelength");
  tt.append("tspan").text(" (nm)");
  odLabel(g, p.odPos, 27);
  txt(g, p.letterPos[0], p.letterPos[1], p.letter, 60);
  txt(g, p.namePos[0], p.namePos[1], p.name, 53, { weight: "normal" });
  p.notes.forEach(n => {
    txt(g, n.pos[0], n.pos[1], n.text, 29);
    g.append("line").attr("x1", x(n.leader[0][0])).attr("y1", y(n.leader[0][1]))
      .attr("x2", x(n.leader[1][0])).attr("y2", y(n.leader[1][1]))
      .attr("stroke", "#000").attr("stroke-width", 1);
  });
  p.labels.forEach((lab, i) => {
    const yy = p.legendTop + i * p.legendStep;
    const t = txt(g, 0, yy + 8, "", 22);
    t.append("tspan").attr("font-style", "italic").text("t");
    t.append("tspan").text(" = " + lab);
    const w = t.node().getComputedTextLength();
    const sx = p.legendCx - (46 + 9 + w) / 2;
    g.append("line").attr("x1", sx).attr("x2", sx + 46).attr("y1", yy).attr("y2", yy)
      .attr("stroke", p.colors[i]).attr("stroke-width", 6);
    t.attr("x", sx + 55);
  });
});

// ---------- kinetic panels ----------
kineticPanels.forEach(p => {
  const g = svg.append("g");
  makeClip(p);
  const x = d3.scaleLog().domain(timeDomain).range([p.frame[0], p.frame[1]]);
  const y = d3.scaleLinear().domain(p.yDomain).range([p.frame[3], p.frame[2]]);
  zeroLine(g, p, y);
  const line = d3.line().defined(d => d.v != null).x(d => x(d.t)).y(d => y(d.v));
  p.series.forEach((s, i) => {
    const data = timeLog.map((lt, k) => ({ t: Math.pow(10, lt), v: s[k] }));
    g.append("path").datum(data).attr("clip-path", `url(#clip-${p.id})`).attr("d", line)
      .attr("fill", "none").attr("stroke", traceColors[i]).attr("stroke-width", 3.2)
      .attr("stroke-linejoin", "round");
  });
  drawFrame(g, p);
  const ticks = x.ticks();
  const isMajor = v => Math.abs(Math.log10(v) - Math.round(Math.log10(v))) < 1e-6;
  const xa = g.append("g").attr("transform", `translate(0,${p.frame[3]})`)
    .call(d3.axisBottom(x).tickValues(ticks).tickFormat("").tickSizeOuter(0));
  xa.select(".domain").remove();
  xa.selectAll(".tick line").attr("y2", d => isMajor(d) ? 12 : 6).attr("stroke-width", 2);
  ticks.filter(isMajor).forEach(v => {
    const t = txt(g, x(v), p.frame[3] + 56, "", 25, { anchor: "middle" });
    t.append("tspan").text("10");
    t.append("tspan").attr("font-size", 17).attr("dy", -13)
      .text(String(Math.round(Math.log10(v))).replace("\u2212", "-"));
  });
  const ya = g.append("g").attr("transform", `translate(${p.frame[0]},0)`)
    .call(d3.axisLeft(y).tickValues(p.yTicks).tickFormat(hyph(d3.format(".2f"))).tickSize(13).tickSizeOuter(0));
  ya.select(".domain").remove();
  ya.selectAll(".tick line").attr("stroke-width", 2);
  ya.selectAll(".tick text").attr("x", -19).attr("dy", "0.36em").attr("font-size", 25)
    .attr("font-weight", "bold").attr("font-family", FONT).attr("fill", "#000");
  const tt = txt(g, 1449, p.titleY, "", 27, { anchor: "middle" });
  tt.append("tspan").attr("font-style", "italic").text("Time");
  tt.append("tspan").text(" (s)");
  odLabel(g, p.odPos, 25);
  txt(g, p.letterPos[0], p.letterPos[1], p.letter, 60);
  txt(g, p.namePos[0], p.namePos[1], p.name, 53, { weight: "normal" });
  p.legend.forEach((L, i) => {
    g.append("line").attr("x1", L[0]).attr("x2", L[0] + 43).attr("y1", L[1]).attr("y2", L[1])
      .attr("stroke", traceColors[i]).attr("stroke-width", 5);
    txt(g, L[0] + 52, L[1] + 7.5, traceLabels[i], 21);
    txt(g, L[2], L[3] + 7.5, traceStates[i], 21, { anchor: "middle" });
  });
});
</script>
</body></html>
